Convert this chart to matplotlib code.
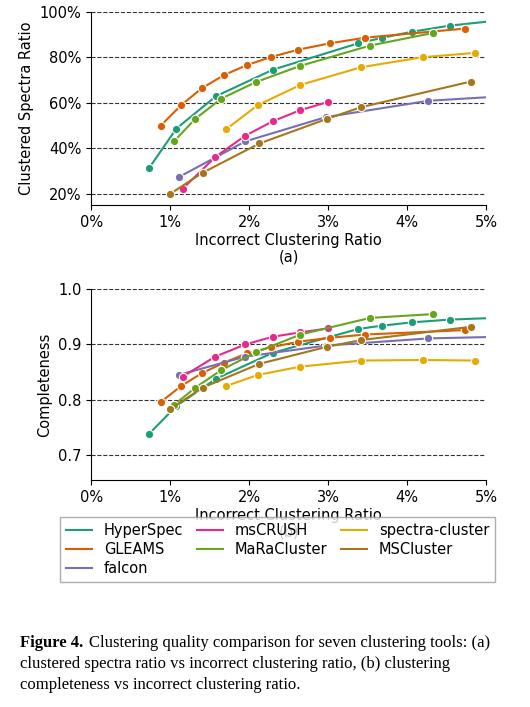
import numpy as np
import matplotlib
matplotlib.use("Agg")
import matplotlib.pyplot as plt
from matplotlib.lines import Line2D
from matplotlib.ticker import FuncFormatter

tools = ["HyperSpec", "GLEAMS", "falcon", "msCRUSH", "MaRaCluster", "spectra-cluster", "MSCluster"]
colors = ["#1b9e77", "#d95f02", "#7570b3", "#e7298a", "#66a61e", "#e6ab02", "#a6761d"]

# incorrect clustering ratio (%)
x_vals = {
    "HyperSpec": [0.73, 1.08, 1.58, 2.30, 3.38, 3.68, 4.06, 4.54, 5.30],
    "GLEAMS": [0.88, 1.14, 1.40, 1.68, 1.97, 2.28, 2.62, 3.02, 3.47, 4.73],
    "falcon": [1.11, 1.95, 2.97, 4.27, 5.50],
    "msCRUSH": [1.16, 1.57, 1.95, 2.30, 2.65, 3.00],
    "MaRaCluster": [1.05, 1.32, 1.65, 2.09, 2.65, 3.53, 4.33],
    "spectra-cluster": [1.71, 2.11, 2.65, 3.42, 4.20, 4.86],
    "MSCluster": [1.00, 1.41, 2.13, 2.99, 3.42, 4.81],
}
# clustered spectra ratio (%)
clustered = {
    "HyperSpec": [31.1, 48.7, 62.9, 74.6, 86.2, 88.6, 91.3, 94.0, 96.8],
    "GLEAMS": [49.9, 59.0, 66.4, 72.2, 76.6, 80.2, 83.4, 86.2, 88.7, 92.7],
    "falcon": [27.3, 43.0, 53.7, 60.9, 63.5],
    "msCRUSH": [22.2, 36.1, 45.5, 51.9, 56.8, 60.4],
    "MaRaCluster": [43.1, 53.0, 61.9, 69.2, 76.3, 85.2, 90.8],
    "spectra-cluster": [48.4, 59.0, 67.9, 75.7, 80.1, 82.0],
    "MSCluster": [19.9, 29.2, 42.1, 53.0, 58.1, 69.4],
}
# completeness
completeness = {
    "HyperSpec": [0.738, 0.789, 0.838, 0.885, 0.928, 0.934, 0.940, 0.945, 0.949],
    "GLEAMS": [0.796, 0.825, 0.848, 0.867, 0.884, 0.895, 0.905, 0.912, 0.918, 0.926],
    "falcon": [0.845, 0.878, 0.898, 0.911, 0.915],
    "msCRUSH": [0.842, 0.878, 0.900, 0.914, 0.922, 0.929],
    "MaRaCluster": [0.791, 0.822, 0.854, 0.886, 0.918, 0.948, 0.955],
    "spectra-cluster": [0.825, 0.845, 0.860, 0.871, 0.872, 0.871],
    "MSCluster": [0.783, 0.822, 0.865, 0.896, 0.908, 0.932],
}

plt.rcParams['font.family'] = ['DejaVu Sans']
fig = plt.figure(figsize=(5.3, 7.07), dpi=100)
ax1 = fig.add_axes([0.172, 0.710, 0.745, 0.273])
ax2 = fig.add_axes([0.172, 0.321, 0.745, 0.270])

for ax, ydata in [(ax1, clustered), (ax2, completeness)]:
    for t, c in zip(tools, colors):
        ax.plot(x_vals[t], ydata[t], color=c, lw=1.5, marker='o', ms=6,
                mec='white', mew=0.8, zorder=3)
    ax.set_xlim(0, 5)
    ax.xaxis.set_major_formatter(FuncFormatter(lambda v, p: f"{v:.0f}%"))
    ax.grid(axis='y', color='black', ls='--', lw=0.8, alpha=0.8)
    for s in ['top', 'right']:
        ax.spines[s].set_visible(False)
    ax.tick_params(labelsize=10.5)

ax1.set_ylim(15, 100)
ax1.set_yticks([20, 40, 60, 80, 100])
ax1.yaxis.set_major_formatter(FuncFormatter(lambda v, p: f"{v:.0f}%"))
ax1.set_ylabel("Clustered Spectra Ratio", fontsize=10.5)
ax1.set_xlabel("Incorrect Clustering Ratio\n(a)", fontsize=10.5, labelpad=2)

ax2.set_ylim(0.655, 1.0)
ax2.set_yticks([0.7, 0.8, 0.9, 1.0])
ax2.set_ylabel("Completeness", fontsize=10.5)
ax2.set_xlabel("Incorrect Clustering Ratio\n(b)", fontsize=10.5, labelpad=2)

h = {t: Line2D([], [], color=c, lw=1.5) for t, c in zip(tools, colors)}
blank = Line2D([], [], color='none')
order = [("HyperSpec", h["HyperSpec"]), ("GLEAMS", h["GLEAMS"]), ("falcon", h["falcon"]),
         ("msCRUSH", h["msCRUSH"]), ("MaRaCluster", h["MaRaCluster"]), ("", blank),
         ("spectra-cluster", h["spectra-cluster"]), ("MSCluster", h["MSCluster"]), ("", blank)]
leg = fig.legend([o[1] for o in order], [o[0] for o in order], ncol=3,
                 loc='upper left', bbox_to_anchor=(0.113, 0.14, 0.821, 0.129),
                 mode='expand', fontsize=10.5, frameon=True, fancybox=False,
                 edgecolor='#999999', handlelength=1.8, labelspacing=0.3,
                 borderaxespad=0)

serif = ['Liberation Serif', 'DejaVu Serif']
fig.canvas.draw()
t0 = fig.text(0.038, 0.085, "Figure 4.", family=serif, weight='bold', fontsize=12)
bb = t0.get_window_extent(fig.canvas.get_renderer())
x1 = bb.x1 / fig.bbox.width + 0.01
fig.text(x1, 0.085, "Clustering quality comparison for seven clustering tools: (a)",
         family=serif, fontsize=12)
fig.text(0.038, 0.055, "clustered spectra ratio vs incorrect clustering ratio, (b) clustering",
         family=serif, fontsize=12)
fig.text(0.038, 0.025, "completeness vs incorrect clustering ratio.", family=serif, fontsize=12)

fig.savefig("out.png", dpi=100)
